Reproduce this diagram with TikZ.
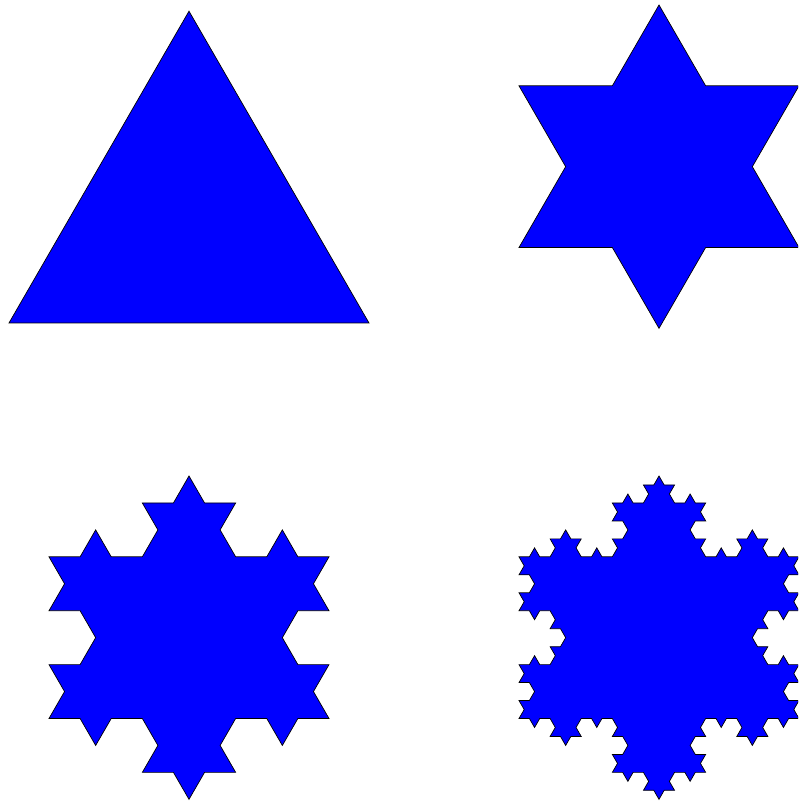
\documentclass[tikz,border=0pt]{standalone}
\usetikzlibrary{lindenmayersystems}
\pgfdeclarelindenmayersystem{Koch flake}{\rule{F -> F-F++F-F}}

\begin{document}
\begin{tikzpicture}[x=1pt,y=1pt,flake/.style={fill=blue,draw=black,line width=.7pt,line join=miter}]
\useasboundingbox (0,0) rectangle (798,802);
\clip (0,0) rectangle (798,802);
% order 0: plain triangle
\draw[flake] (9,479) -- (369,479) -- (189,790.8) -- cycle;
% order 1
\begin{scope}[shift={(519,554.5)}]
\draw[flake] [l-system={Koch flake,axiom=F++F++F,angle=60,order=1,step=93.333pt}] lindenmayer system -- cycle;
\end{scope}
% order 2
\begin{scope}[shift={(49,83.5)}]
\draw[flake] [l-system={Koch flake,axiom=F++F++F,angle=60,order=2,step=31.111pt}] lindenmayer system -- cycle;
\end{scope}
% order 3
\begin{scope}[shift={(519,83.5)}]
\draw[flake] [l-system={Koch flake,axiom=F++F++F,angle=60,order=3,step=10.370pt}] lindenmayer system -- cycle;
\end{scope}
\end{tikzpicture}
\end{document}
